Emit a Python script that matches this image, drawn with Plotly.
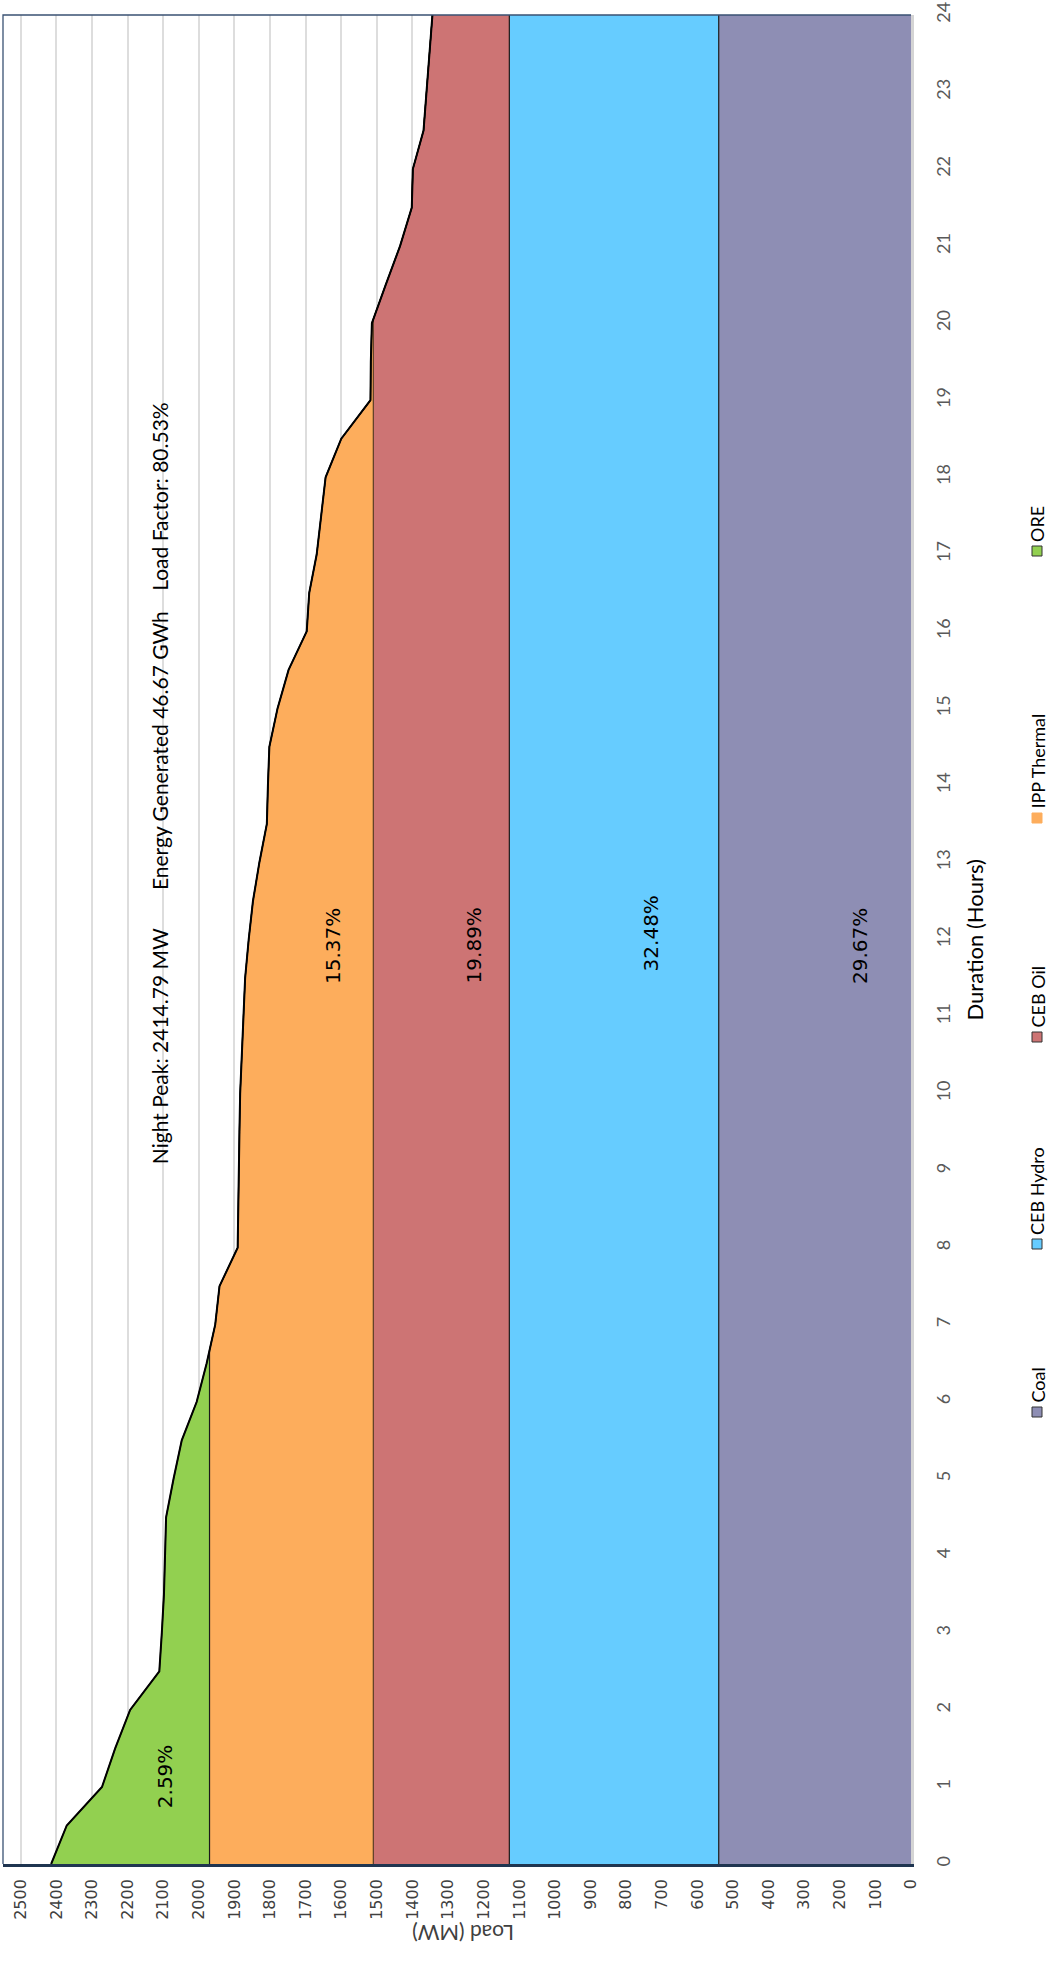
import plotly.graph_objects as go

# Load duration curve (MW) sampled every half hour
hours = [0, 0.5, 1, 1.5, 2, 2.5, 3, 3.5, 4, 4.5, 5, 5.5, 6, 6.5, 7, 7.5, 8, 8.5,
         9, 9.5, 10, 10.5, 11, 11.5, 12, 12.5, 13, 13.5, 14, 14.5, 15, 15.5, 16,
         16.5, 17, 17.5, 18, 18.5, 19, 19.5, 20, 20.5, 21, 21.5, 22, 22.5, 23,
         23.5, 24]
load_mw = [2414.79, 2371, 2272, 2235, 2193, 2111, 2104, 2098, 2095, 2092, 2071,
           2048, 2006, 1978, 1954, 1942, 1891, 1890, 1888, 1886, 1884, 1879,
           1875, 1870, 1860, 1848, 1830, 1809, 1806, 1802, 1779, 1748, 1697,
           1690, 1669, 1657, 1644, 1600, 1518, 1517, 1514, 1475, 1435, 1402,
           1399, 1369, 1360, 1352, 1344]

# Upper limit of each generation block (MW), bottom to top
sources = ["Coal", "CEB Hydro", "CEB Oil", "IPP Thermal", "ORE"]
block_top = [540, 1128, 1510, 1970, None]
energy_share = ["29.67%", "32.48%", "19.89%", "15.37%", "2.59%"]
colors = ["#8E8EB4", "#66CCFF", "#CD7474", "#FDAD5C", "#92D050"]
edge_colors = ["#1A1A1A", "#1A1A1A", "#5A3A22", "#1A1A1A", "#1A1A1A"]

night_peak = "Night Peak: 2414.79 MW"
energy_text = "Energy Generated 46.67 GWh"
load_factor = "Load Factor: 80.53%"


def capped(h, v, cap):
    """Curve limited to `cap`, with the crossing points kept exact."""
    if cap is None:
        return list(h), list(v)
    hh, vv = [], []
    for i in range(len(h)):
        if i > 0:
            a, b = v[i - 1], v[i]
            if (a - cap) * (b - cap) < 0:
                t = (cap - a) / (b - a)
                hh.append(h[i - 1] + t * (h[i] - h[i - 1]))
                vv.append(cap)
        hh.append(h[i])
        vv.append(min(v[i], cap))
    return hh, vv


fig = go.Figure()
for k, name in enumerate(sources):
    hh, vv = capped(hours, load_mw, block_top[k])
    fig.add_trace(go.Scatter(
        x=vv, y=hh, mode="lines", name=name,
        fill="tozerox" if k == 0 else "tonextx",
        fillcolor=colors[k],
        line=dict(color=edge_colors[k], width=1.2),
        hoverinfo="skip", showlegend=False))

# outline of the load duration curve
fig.add_trace(go.Scatter(x=load_mw, y=hours, mode="lines",
                         line=dict(color="#000000", width=2),
                         hoverinfo="skip", showlegend=False))

# plot area geometry (pixels)
W_FIG, H_FIG = 1056, 1964
L, R, T, B = 3, 911, 15, 1864
PW, PH = R - L, B - T


def fx(px):
    return (px - L) / PW


def fy(py):
    return (B - py) / PH


annotations = []
# energy share labels
share_pos = [(145, 11.92), (730, 12.08), (1228, 11.92), (1625, 11.92), (2095, 1.14)]
for (xv, yv), txt in zip(share_pos, energy_share):
    annotations.append(dict(x=xv, y=yv, xref="x", yref="y", text=txt,
                            textangle=-90, showarrow=False,
                            font=dict(family="DejaVu Sans", size=20, color="#000000")))

# summary figures
for txt, yv in [(night_peak, 10.62), (energy_text, 14.45), (load_factor, 17.75)]:
    annotations.append(dict(x=2111, y=yv, xref="x", yref="y", text=txt,
                            textangle=-90, showarrow=False,
                            font=dict(family="Lato", size=21, color="#000000")))

# axis titles
annotations.append(dict(x=fx(989), y=fy(940), xref="paper", yref="paper",
                        text="Duration (Hours)", textangle=-90, showarrow=False,
                        font=dict(family="Lato", size=22, color="#000000")))
annotations.append(dict(x=fx(463), y=fy(1948), xref="paper", yref="paper",
                        text="Load (MW)", textangle=180, showarrow=False,
                        font=dict(family="Lato", size=21, color="#404040")))

# legend drawn sideways to follow the chart orientation
shapes = []
legend_y = [1412, 1244, 1037, 818, 551]
LEG_X = 1037
for k, name in enumerate(sources):
    cy = legend_y[k]
    shapes.append(dict(type="rect", xref="paper", yref="paper",
                       x0=fx(LEG_X - 5), x1=fx(LEG_X + 5),
                       y0=fy(cy + 5), y1=fy(cy - 5),
                       fillcolor=colors[k],
                       line=dict(color="#333333" if k != 3 else colors[k], width=1)))
    annotations.append(dict(x=fx(LEG_X), y=fy(cy - 7), xref="paper", yref="paper",
                            text=name, textangle=-90, showarrow=False,
                            xanchor="center", yanchor="bottom",
                            font=dict(family="Lato", size=18, color="#000000")))

# plot frame: left and top edges
shapes.append(dict(type="path", xref="paper", yref="paper",
                   path="M 0 0 L 0 1 L 1 1",
                   line=dict(color="#3A5273", width=1.3), layer="above"))

fig.update_layout(
    width=W_FIG, height=H_FIG,
    margin=dict(l=L, r=W_FIG - R, t=T, b=H_FIG - B),
    paper_bgcolor="white", plot_bgcolor="white",
    showlegend=False,
    annotations=annotations, shapes=shapes,
    xaxis=dict(range=[2550, 0], tickmode="array",
               tickvals=list(range(0, 2501, 100)),
               ticktext=[str(v) for v in range(0, 2501, 100)],
               tickangle=-90, ticks="outside", ticklen=6,
               tickcolor="rgba(0,0,0,0)",
               tickfont=dict(family="DejaVu Sans", size=16, color="#404040"),
               showgrid=True, gridcolor="#DDDDDD", gridwidth=2,
               zeroline=False, showline=True, linecolor="#1F3550", linewidth=2.5),
    yaxis=dict(range=[0, 24], side="right", tickmode="array",
               tickvals=list(range(0, 25)),
               ticktext=[str(v) for v in range(0, 25)],
               tickangle=-90, ticks="outside", ticklen=14,
               tickcolor="rgba(0,0,0,0)",
               tickfont=dict(family="Lato", size=18, color="#595959"),
               showgrid=False, zeroline=False,
               showline=True, linecolor="#D4D4D4", linewidth=3),
)

fig.write_html("out.html")
